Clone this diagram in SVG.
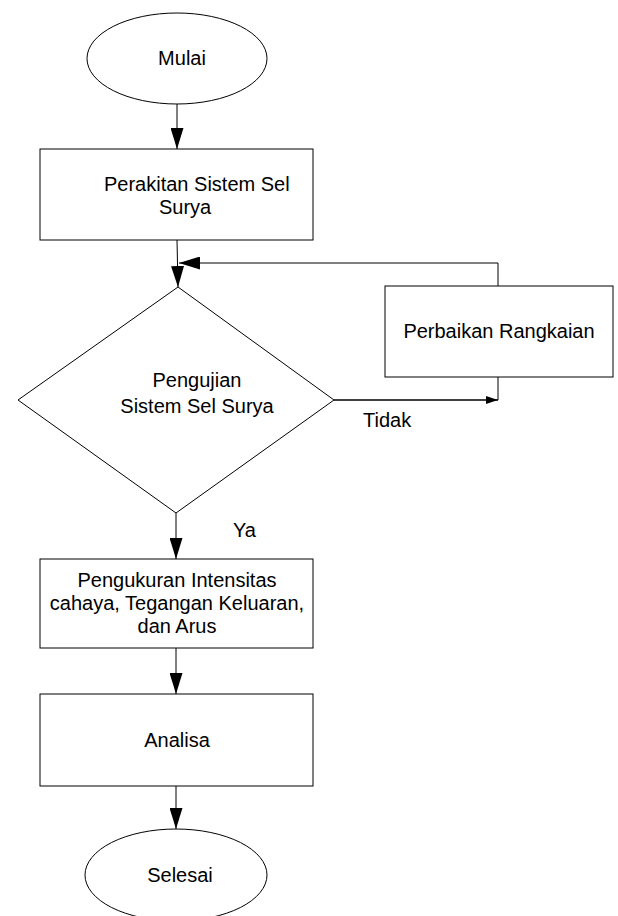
<svg xmlns="http://www.w3.org/2000/svg" width="618" height="916" viewBox="0 0 618 916">
  <style>
    .shape { fill: #ffffff; stroke: #000000; stroke-width: 1; }
    .conn { fill: none; stroke: #000000; stroke-width: 1; }
    text { font-family: "Liberation Sans", Arial, sans-serif; font-size: 20px; fill: #000000; }
    .c { text-anchor: middle; }
  </style>
  <defs>
    <marker id="arrow" markerUnits="userSpaceOnUse" markerWidth="22" markerHeight="13" refX="21" refY="6.5" orient="auto">
      <path d="M0,0 L21,6.5 L0,13 z" fill="#000000"/>
    </marker>
    <marker id="arrowSmall" markerUnits="userSpaceOnUse" markerWidth="13" markerHeight="8" refX="12" refY="4" orient="auto">
      <path d="M0,0 L12,4 L0,8 z" fill="#000000"/>
    </marker>
  </defs>
  <rect width="618" height="916" fill="#ffffff"/>

  <g id="connectors">
    <line class="conn" x1="177" y1="104" x2="177" y2="149" marker-end="url(#arrow)"/>
    <line class="conn" x1="177" y1="240" x2="178" y2="287" marker-end="url(#arrow)"/>
    <polyline class="conn" points="498,286 498,263 179,263" marker-end="url(#arrow)"/>
    <polyline class="conn" points="334,400 498,400 498,377"/>
    <line class="conn" x1="334" y1="400" x2="498" y2="400" marker-end="url(#arrowSmall)"/>
    <line class="conn" x1="176" y1="513" x2="176" y2="559" marker-end="url(#arrow)"/>
    <line class="conn" x1="176" y1="648" x2="176" y2="694" marker-end="url(#arrow)"/>
    <line class="conn" x1="176" y1="786" x2="176" y2="829" marker-end="url(#arrow)"/>
    <text x="363" y="427">Tidak</text>
    <text x="233" y="537">Ya</text>
  </g>

  <g id="mulai">
    <ellipse class="shape" cx="177" cy="58.5" rx="90" ry="45.5"/>
    <text class="c" x="182" y="65">Mulai</text>
  </g>

  <g id="perakitan">
    <rect class="shape" x="40" y="149" width="273" height="91"/>
    <text x="104" y="191">Perakitan Sistem Sel</text>
    <text x="159" y="214">Surya</text>
  </g>

  <g id="pengujian">
    <polygon class="shape" points="178,287 334,400 176,513 18,400"/>
    <text class="c" x="197" y="387">Pengujian</text>
    <text class="c" x="197" y="413">Sistem Sel Surya</text>
  </g>

  <g id="perbaikan">
    <rect class="shape" x="385" y="286" width="228" height="91"/>
    <text class="c" x="499" y="338">Perbaikan Rangkaian</text>
  </g>

  <g id="pengukuran">
    <rect class="shape" x="40" y="559" width="273" height="89"/>
    <text class="c" x="177" y="587">Pengukuran Intensitas</text>
    <text class="c" x="177" y="610">cahaya, Tegangan Keluaran,</text>
    <text class="c" x="177" y="633">dan Arus</text>
  </g>

  <g id="analisa">
    <rect class="shape" x="40" y="694" width="273" height="92"/>
    <text class="c" x="177" y="747">Analisa</text>
  </g>

  <g id="selesai">
    <ellipse class="shape" cx="176" cy="875" rx="91" ry="46"/>
    <text class="c" x="180" y="882">Selesai</text>
  </g>
</svg>
